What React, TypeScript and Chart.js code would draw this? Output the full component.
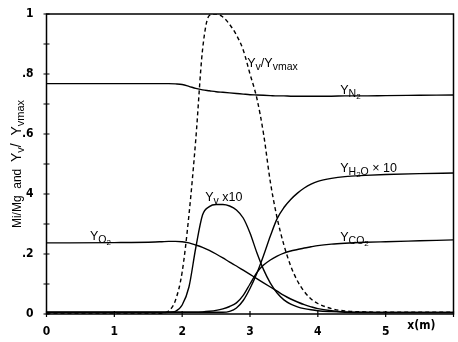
import React, { useEffect, useRef } from "react";
import { Chart, registerables } from "chart.js";

Chart.register(...registerables);

// Axial positions (m) shared by every profile
const xs = [0, 1, 1.6, 1.7, 1.8, 1.9, 2.0, 2.1, 2.2, 2.3, 2.4, 2.5, 2.6, 2.7, 2.8, 2.9, 3.0, 3.1, 3.2, 3.3, 3.4, 3.5, 3.6, 3.7, 3.8, 3.9, 4.0, 4.2, 4.4, 4.7, 5.0, 5.5, 6.0];

// Normalised vapour fraction Yv/Yvmax (dashed)
const yvRatio = [0, 0, 0, 0.003, 0.01, 0.045, 0.14, 0.33, 0.58, 0.88, 0.995, 1.0, 0.99, 0.965, 0.93, 0.88, 0.8, 0.72, 0.6, 0.44, 0.32, 0.23, 0.16, 0.11, 0.075, 0.05, 0.035, 0.018, 0.01, 0.007, 0.006, 0.006, 0.006];
// Vapour mass fraction x10
const yv10 = [0.005, 0.005, 0.005, 0.005, 0.006, 0.009, 0.03, 0.09, 0.22, 0.33, 0.358, 0.365, 0.365, 0.36, 0.347, 0.32, 0.27, 0.205, 0.148, 0.103, 0.07, 0.047, 0.033, 0.024, 0.018, 0.014, 0.011, 0.008, 0.006, 0.005, 0.005, 0.005, 0.005];
// Nitrogen
const yN2 = [0.768, 0.768, 0.768, 0.768, 0.768, 0.767, 0.765, 0.759, 0.752, 0.747, 0.744, 0.741, 0.739, 0.737, 0.735, 0.733, 0.731, 0.73, 0.729, 0.728, 0.727, 0.727, 0.726, 0.726, 0.726, 0.726, 0.726, 0.726, 0.727, 0.727, 0.728, 0.729, 0.73];
// Oxygen
const yO2 = [0.237, 0.238, 0.24, 0.241, 0.242, 0.242, 0.241, 0.237, 0.23, 0.222, 0.212, 0.2, 0.187, 0.173, 0.16, 0.146, 0.132, 0.118, 0.104, 0.09, 0.076, 0.062, 0.05, 0.04, 0.031, 0.024, 0.018, 0.011, 0.007, 0.006, 0.005, 0.005, 0.005];
// Carbon dioxide
const yCO2 = [0.006, 0.006, 0.006, 0.006, 0.006, 0.006, 0.006, 0.006, 0.006, 0.007, 0.009, 0.012, 0.017, 0.025, 0.037, 0.062, 0.1, 0.138, 0.163, 0.18, 0.193, 0.203, 0.21, 0.215, 0.22, 0.224, 0.228, 0.233, 0.236, 0.239, 0.241, 0.244, 0.247];
// Water vapour x10
const yH2O10 = [0.006, 0.006, 0.006, 0.006, 0.006, 0.006, 0.006, 0.006, 0.006, 0.006, 0.006, 0.006, 0.006, 0.009, 0.02, 0.045, 0.085, 0.135, 0.195, 0.26, 0.318, 0.355, 0.382, 0.403, 0.42, 0.433, 0.442, 0.452, 0.458, 0.462, 0.465, 0.468, 0.47];

// Tick labels
const yTickLabels: Record<number, string> = { 0: "0", 2: ".2", 4: "4", 6: ".6", 8: ".8", 10: "1" };
const xTickLabels = ["0", "1", "2", "3", "4", "5"];
const xAxisName = "x(m)";

type Part = { t: string; size: number; dy: number };
const big = (t: string): Part => ({ t, size: 12.5, dy: 0 });
const sub = (t: string): Part => ({ t, size: 10.5, dy: 3 });
const sub2 = (t: string): Part => ({ t, size: 8, dy: 5 });

// Curve labels, anchored in data coordinates (left edge, vertical centre)
const curveLabels: { x: number; y: number; parts: Part[] }[] = [
  { x: 2.96, y: 0.84, parts: [big("Y"), sub("v"), big("/"), big("Y"), sub("vmax")] },
  { x: 4.33, y: 0.75, parts: [big("Y"), sub("N"), sub2("2")] },
  { x: 4.33, y: 0.49, parts: [big("Y"), sub("H"), sub2("2"), sub("O"), big(" × 10")] },
  { x: 2.34, y: 0.393, parts: [big("Y"), sub("v"), big(" x10")] },
  { x: 0.64, y: 0.263, parts: [big("Y"), sub("O"), sub2("2")] },
  { x: 4.33, y: 0.26, parts: [big("Y"), sub("CO"), sub2("2")] },
];

const yTitle: Part[] = [
  { t: "Mi/Mg  and  ", size: 12, dy: 0 },
  { t: "Y", size: 14, dy: 0 },
  { t: "v", size: 11, dy: 3 },
  { t: "/  ", size: 14, dy: 0 },
  { t: "Y", size: 14, dy: 0 },
  { t: "vmax", size: 11, dy: 3 },
];

const FAMILY = "'Liberation Sans', Arial, sans-serif";
const TICK_FAMILY = "'Liberation Sans Narrow', 'DejaVu Sans Condensed', 'Liberation Sans', sans-serif";

function richWidth(ctx: CanvasRenderingContext2D, parts: Part[]) {
  let w = 0;
  for (const p of parts) {
    ctx.font = `${p.size}px ${FAMILY}`;
    w += ctx.measureText(p.t).width;
  }
  return w;
}

function drawRich(ctx: CanvasRenderingContext2D, x: number, yc: number, parts: Part[]) {
  const base = yc + 4.5;
  let cx = x;
  ctx.textBaseline = "alphabetic";
  ctx.textAlign = "left";
  for (const p of parts) {
    ctx.font = `${p.size}px ${FAMILY}`;
    ctx.fillText(p.t, cx, base + p.dy);
    cx += ctx.measureText(p.t).width;
  }
}

const decorations = {
  id: "decorations",
  afterDraw(chart: any) {
    const { ctx, chartArea: a, scales } = chart;
    const xs_ = scales.x;
    const ys_ = scales.y;
    ctx.save();
    ctx.strokeStyle = "#000";
    ctx.fillStyle = "#000";
    ctx.lineWidth = 1.5;
    ctx.strokeRect(a.left, a.top, a.right - a.left, a.bottom - a.top);

    // cross ticks on both axes
    ctx.lineWidth = 1.2;
    ctx.beginPath();
    for (let i = 0; i <= 10; i++) {
      const py = ys_.getPixelForValue(i / 10);
      ctx.moveTo(a.left - 3, py);
      ctx.lineTo(a.left + 3, py);
    }
    for (let i = 0; i <= 6; i++) {
      const px = xs_.getPixelForValue(i);
      ctx.moveTo(px, a.bottom - 3);
      ctx.lineTo(px, a.bottom + 3);
    }
    ctx.stroke();

    // curve labels
    for (const l of curveLabels) {
      drawRich(ctx, xs_.getPixelForValue(l.x), ys_.getPixelForValue(l.y), l.parts);
    }

    // x axis name
    ctx.font = `bold 12px ${TICK_FAMILY}`;
    ctx.textAlign = "left";
    ctx.textBaseline = "middle";
    ctx.fillText(xAxisName, xs_.getPixelForValue(5.32), a.bottom + 12);

    // rotated y axis title
    ctx.translate(17, (a.top + a.bottom) / 2);
    ctx.rotate(-Math.PI / 2);
    const w = richWidth(ctx, yTitle);
    drawRich(ctx, -w / 2, -1, yTitle);
    ctx.restore();
  },
};

const noScalePadding = (s: any) => {
  s.paddingLeft = 0;
  s.paddingRight = 0;
  s.paddingTop = 0;
  s.paddingBottom = 0;
};

export default function App() {
  const ref = useRef<HTMLCanvasElement | null>(null);

  useEffect(() => {
    if (!ref.current) return;
    const line = (values: number[], dashed = false) => ({
      data: xs.map((x, i) => ({ x, y: values[i] })),
      borderColor: "#000",
      borderWidth: 1.4,
      borderDash: dashed ? [4, 3] : [],
      pointRadius: 0,
      fill: false,
      cubicInterpolationMode: "monotone" as const,
    });
    const chart = new Chart(ref.current, {
      type: "line",
      data: {
        datasets: [
          line(yvRatio, true),
          line(yv10),
          line(yN2),
          line(yO2),
          line(yCO2),
          line(yH2O10),
        ],
      },
      options: {
        animation: false,
        responsive: false,
        devicePixelRatio: 1,
        events: [],
        layout: { padding: { top: 14, right: 4.5, left: 0, bottom: 0 } },
        plugins: { legend: { display: false }, tooltip: { enabled: false } },
        scales: {
          x: {
            type: "linear",
            min: 0,
            max: 6,
            grid: { display: false, drawTicks: false },
            border: { display: false },
            afterFit: (s: any) => {
              s.height = 28;
              noScalePadding(s);
            },
            ticks: {
              stepSize: 1,
              padding: 11,
              color: "#000",
              font: { family: TICK_FAMILY, size: 12, weight: "bold" },
              maxRotation: 0,
              callback: (v: any) => xTickLabels[Number(v)] ?? "",
            },
          },
          y: {
            type: "linear",
            min: 0,
            max: 1,
            grid: { display: false, drawTicks: false },
            border: { display: false },
            afterFit: (s: any) => {
              s.width = 46.5;
              noScalePadding(s);
            },
            ticks: {
              stepSize: 0.1,
              padding: 13,
              color: "#000",
              font: { family: TICK_FAMILY, size: 12, weight: "bold" },
              callback: (v: any) => yTickLabels[Math.round(Number(v) * 10)] ?? "",
            },
          },
        },
      },
      plugins: [decorations],
    });
    return () => chart.destroy();
  }, []);

  return (
    <div style={{ position: "fixed", left: 0, top: 0, width: 458, height: 342, background: "#fff" }}>
      <canvas ref={ref} width={458} height={342} />
    </div>
  );
}
